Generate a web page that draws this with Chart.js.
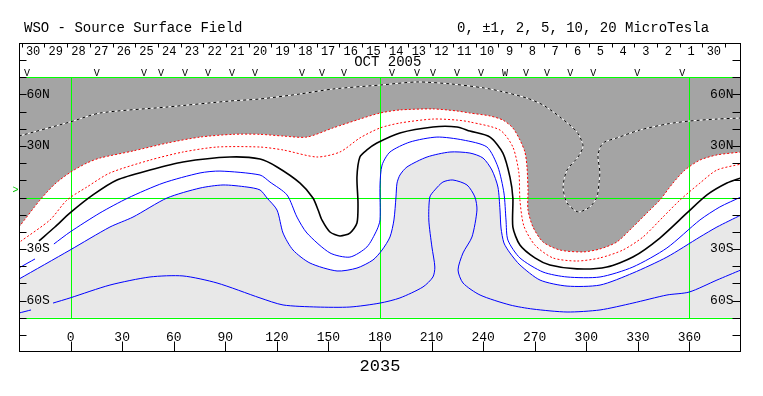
<!DOCTYPE html>
<html>
<head>
<meta charset="utf-8">
<script src="https://cdn.jsdelivr.net/npm/chart.js@4.4.0/dist/chart.umd.min.js"></script>
<style>
  body { margin: 0; background: #fff; }
  canvas { display: block; }
</style>
</head>
<body>
<canvas id="wso" width="763" height="396"></canvas>
<script>
// contour lines as [carrington longitude, latitude]; null = line hidden under a label
const neg5 = [[-30,35.8],[-0.3,44.0],[17.1,49.2],[56.1,52.7],[92.7,56.2],[110.2,57.4],[133.4,60.3],[152.6,63.2],
  [180.0,65.5],[201.5,67.3],[220.7,66.2],[239.9,63.9],[249.8,62.0],[265.5,57.9],[274.8,53.9],[284.7,46.9],
  [294.6,38.1],[298.1,30.0],[295.2,23.6],[288.8,16.0],[286.5,6.1],[288.8,-3.2],[295.2,-8.4],[302.1,-5.5],
  [306.2,0.3],[307.4,8.4],[307.9,14.9],[306.8,24.8],[309.7,31.7],[317.8,34.7],[331.1,39.3],[346.9,42.8],
  [359.6,44.5],[376.0,45.7],[390,46.3]];
const neg2 = [[-30,-17.2],[-17.8,-1.5],[-9.1,7.9],[0.2,14.9],[9.5,20.1],[17.1,23.0],[36.3,27.1],[56.1,31.7],
  [75.3,35.2],[94.5,36.8],[110.2,36.8],[123.6,35.8],[137.5,35.2],[152.6,40.5],[168.3,45.7],[180.0,49.2],
  [191.6,51.0],[210.8,51.6],[224.8,50.4],[232.3,49.2],[244.0,47.5],[251.5,45.1],[257.3,40.5],[261.4,33.5],
  [264.3,26.5],[265.5,17.8],[266.1,4.4],[266.1,-7.3],[269.0,-17.2],[274.8,-25.9],[284.7,-30.6],[298.1,-31.7],
  [307.9,-30.0],[317.8,-25.9],[327.1,-17.2],[335.3,-9.0],[342.8,-1.5],[350.4,8.4],[357.4,16.0],[366.1,21.8],
  [376.0,24.8],[390,26.5]];
const neg1 = [[-29,-25.5],[-12.0,-13.1],[-2.1,-1.5],[9.5,6.1],[22.9,14.3],[46.2,21.8],[65.4,26.5],[85.2,29.4],
  [110.2,29.4],[123.6,27.7],[143.3,23.6],[156.7,26.5],[168.3,34.7],[180.0,40.5],[191.6,43.4],[210.8,45.7],
  [224.8,45.1],[232.3,44.0],[249.8,39.3],[257.3,29.4],[260.8,14.3],[261.4,-1.5],[263.7,-16.6],[270.1,-27.7],
  [280.6,-35.2],[294.6,-37.0],[307.9,-35.2],[321.3,-30.6],[333.0,-23.0],[344.6,-11.4],[354.5,-1.5],[366.1,8.4],
  [376.0,16.0],[390,19.5]];
const zero = [[-18.4,-25.3],[-9.1,-17.2],[-0.3,-9.0],[13.0,1.5],[27.0,10.2],[46.2,16.0],[65.4,20.7],[92.7,23.6],
  [110.2,22.4],[120.1,17.8],[133.5,8.4],[141.0,-0.3],[144.0,-7.3],[146.2,-13.1],[150.9,-20.1],[156.7,-22.4],
  [162.5,-20.7],[166.6,-14.9],[167.2,-3.2],[166.6,11.9],[168.3,23.6],[172.4,27.7],[178.2,31.7],[191.6,37.6],
  [210.8,41.1],[224.8,41.1],[232.3,38.7],[244.0,35.2],[251.5,25.9],[255.6,11.9],[257.3,-0.3],[257.3,-17.2],
  [261.4,-27.7],[270.1,-35.2],[278.8,-39.3],[294.6,-41.6],[312.0,-40.5],[327.1,-34.7],[342.8,-23.6],
  [358.6,-9.0],[370.2,1.5],[381.8,8.4],[390,11.4]];
const pos1 = [[-30,-41.0],[-20.7,-35.8],null,[-9.7,-27.1],[-0.3,-20.1],[17.1,-9.0],[33.4,-0.3],[53.8,8.4],
  [75.3,14.3],[86.9,15.4],[110.2,13.1],[116.0,9.0],[125.9,1.5],[131.7,-11.4],[137.5,-20.7],[150.9,-32.3],
  [162.5,-34.7],[172.4,-28.8],[178.2,-18.9],[180.0,-13.1],[180.0,7.3],[181.2,18.9],[185.8,26.5],[197.4,32.3],
  [213.1,35.2],[228.3,33.5],[242.2,29.4],[248.6,17.8],[252.1,2.6],[253.3,-13.1],[254.4,-24.8],[261.4,-35.2],
  [274.8,-43.4],[288.8,-46.3],[308.0,-46.3],[327.1,-40.5],[346.9,-29.4],[366.1,-13.1],[377.7,-5.5],[390,0.3]];
const pos2 = [[-30,-47.5],[-0.3,-30.6],[22.9,-17.2],[36.3,-11.4],[56.1,-0.3],[75.3,5.5],[88.7,7.3],[102.6,6.1],
  [110.2,4.4],[114.3,-0.3],[120.1,-7.3],[123.6,-20.7],[129.4,-30.6],[139.3,-38.2],[155.0,-42.8],[166.6,-41.1],
  [175.9,-36.4],[181.2,-30.6],[185.8,-23.0],[188.1,-13.1],[189.3,0.3],[189.9,8.4],[191.6,13.1],[195.7,17.8],
  [207.4,23.6],[220.7,26.5],[232.3,25.9],[239.9,23.0],[245.1,16.0],[248.6,6.1],[249.8,-7.3],[250.4,-17.8],
  [252.1,-26.5],[255.6,-32.3],[261.4,-39.3],[273.1,-48.1],[288.8,-51.6],[308.0,-51.0],[327.1,-44.0],
  [346.9,-34.7],[366.1,-23.0],[376.0,-17.2],[390,-10.2]];
const pos5 = [[-30,-67.3],[-23.0,-65.5],null,[-10.2,-61.5],[-0.3,-58.5],[22.9,-51.0],[46.2,-46.3],[65.4,-45.7],
  [85.2,-49.8],[110.2,-58.5],[123.6,-62.6],[143.3,-63.8],[162.5,-63.8],[180.0,-61.5],[191.6,-58.5],
  [205.0,-52.1],[210.8,-46.3],[211.9,-40.5],[210.2,-28.8],[208.4,-13.1],[209.0,0.3],[211.9,4.4],[216.6,9.0],
  [222.4,10.2],[230.6,7.3],[235.2,0.3],[236.4,-7.3],[233.5,-23.0],[228.3,-32.3],[225.4,-42.2],[228.3,-49.8],
  [238.2,-56.8],[255.6,-62.6],[269.0,-65.0],[288.8,-66.7],[308.0,-65.5],[327.1,-61.5],[346.9,-56.8],
  [359.8,-55.1],[376.0,-48.1],[390,-42.2]];

// axes and annotations
const lonTicks = [0, 30, 60, 90, 120, 150, 180, 210, 240, 270, 300, 330, 360];
const latTicks = [-80, -70, -60, -50, -40, -30, -20, -10, 0, 10, 20, 30, 40, 50, 60, 70, 80];
const latLabels = [[60, '60N'], [30, '30N'], [-30, '30S'], [-60, '60S']];
const gridLon = [0, 180, 360];
const gridLat = [70, 0, -70];
const dayLabels = [30, 29, 28, 27, 26, 25, 24, 23, 22, 21, 20, 19, 18, 17, 16, 15, 14, 13, 12, 11, 10, 9, 8, 7, 6, 5, 4, 3, 2, 1, 30];
const firstDayLon = -28.4;
const dayWidth = 13.2;
const obsLon = [-25.4, 15.3, 42.7, 52.6, 66.5, 79.9, 93.9, 107.3, 134.6, 146.3, 159.1, 187.0, 201.5, 210.8,
  224.8, 238.8, 252.7, 265.0, 277.2, 290.6, 304.0, 329.6, 355.8];
const obsMark = obsLon.map(l => l === 252.7 ? 'W' : 'V');
const earthLat = 4.4;
const monthText = 'OCT 2005';
const monthLon = 184.5;
const rotation = '2035';
const titleLeft = 'WSO - Source Surface Field';
const titleRight = '0, \u00b11, 2, 5, 10, 20 MicroTesla';

function pts(list) {
  return list.map(p => p ? {x: p[0], y: p[1]} : {x: null, y: null});
}

const mono = '"Liberation Mono", "DejaVu Sans Mono", monospace';

const decor = {
  id: 'decor',
  // green reference lines go over the shading but under the contours
  beforeDatasetsDraw(chart) {
    const {ctx, scales: {x, y}, chartArea: a} = chart;
    ctx.save();
    ctx.fillStyle = '#00ff00';
    const top = Math.round(y.getPixelForValue(70));
    const bottom = Math.round(y.getPixelForValue(-70));
    gridLon.forEach(l => {
      ctx.fillRect(Math.round(x.getPixelForValue(l)), top, 1, bottom - top + 1);
    });
    gridLat.forEach(l => {
      ctx.fillRect(Math.round(a.left), Math.round(y.getPixelForValue(l)), Math.round(a.right - a.left), 1);
    });
    ctx.restore();
  },
  afterDatasetsDraw(chart) {
    const {ctx, scales: {x, y}, chartArea: a} = chart;
    ctx.save();
    ctx.strokeStyle = '#000';
    ctx.fillStyle = '#000';
    ctx.lineWidth = 1;
    const L = Math.round(a.left) + 0.5, R = Math.round(a.right) - 0.5;
    const T = Math.round(a.top) + 0.5, B = Math.round(a.bottom) - 0.5;
    ctx.strokeRect(L, T, R - L, B - T);

    ctx.beginPath();
    latTicks.forEach(l => {
      const py = Math.round(y.getPixelForValue(l)) + 0.5;
      ctx.moveTo(L, py); ctx.lineTo(L + 7, py);
      ctx.moveTo(R, py); ctx.lineTo(R - 8, py);
    });
    lonTicks.forEach(l => {
      const px = Math.round(x.getPixelForValue(l)) + 0.5;
      ctx.moveTo(px, B); ctx.lineTo(px, B - 10);
    });
    for (let k = 0; k <= dayLabels.length; k++) {
      const px = Math.round(x.getPixelForValue(firstDayLon + k * dayWidth)) + 0.5;
      ctx.moveTo(px, T); ctx.lineTo(px, T + 4);
    }
    ctx.stroke();

    ctx.textBaseline = 'middle';
    ctx.font = '13px ' + mono;
    ctx.textAlign = 'left';
    latLabels.forEach(([l, t]) => ctx.fillText(t, L + 7, y.getPixelForValue(l)));
    ctx.textAlign = 'right';
    latLabels.forEach(([l, t]) => ctx.fillText(t, R - 7, y.getPixelForValue(l)));

    ctx.textAlign = 'center';
    lonTicks.forEach(l => ctx.fillText(String(l), x.getPixelForValue(l), B - 14));

    ctx.font = '12px ' + mono;
    dayLabels.forEach((d, k) => {
      ctx.fillText(String(d), x.getPixelForValue(firstDayLon + (k + 0.5) * dayWidth), T + 8);
    });

    ctx.font = '14px ' + mono;
    ctx.fillText(monthText, x.getPixelForValue(monthLon), T + 19);

    ctx.font = '10px ' + mono;
    ctx.textBaseline = 'bottom';
    obsLon.forEach((l, i) => ctx.fillText(obsMark[i], x.getPixelForValue(l), y.getPixelForValue(70) + 1));

    ctx.textBaseline = 'alphabetic';
    ctx.font = '14px ' + mono;
    ctx.textAlign = 'left';
    ctx.fillText(titleLeft, 24, 32);
    ctx.fillText(titleRight, 457, 32);

    ctx.font = '17px ' + mono;
    ctx.textAlign = 'center';
    ctx.textBaseline = 'middle';
    ctx.fillText(rotation, x.getPixelForValue(180), 366);

    ctx.fillStyle = '#00c000';
    ctx.font = '10px ' + mono;
    ctx.textAlign = 'right';
    ctx.fillText('>', L - 1, y.getPixelForValue(earthLat));
    ctx.restore();
  }
};

const base = {pointRadius: 0, borderWidth: 1, tension: 0.25, fill: false};

new Chart(document.getElementById('wso'), {
  type: 'line',
  data: {
    datasets: [
      {...base, data: pts(neg2), borderColor: '#ff0000', borderDash: [2, 2], fill: {value: 70}, backgroundColor: '#a4a4a4', order: 8},
      {...base, data: pts(pos2), borderColor: '#0000ff', fill: {value: -70}, backgroundColor: '#e8e8e8', order: 7},
      {...base, data: pts(neg5), borderColor: '#ffffff', order: 6},
      {...base, data: pts(neg5), borderColor: '#000000', borderDash: [3, 3], order: 5},
      {...base, data: pts(neg1), borderColor: '#ff0000', borderDash: [2, 2], order: 4},
      {...base, data: pts(pos1), borderColor: '#0000ff', order: 3},
      {...base, data: pts(pos5), borderColor: '#0000ff', order: 2},
      {...base, data: pts(zero), borderColor: '#000000', borderWidth: 1.6, order: 1}
    ]
  },
  options: {
    responsive: false,
    devicePixelRatio: 1,
    animation: false,
    events: [],
    layout: {padding: {left: 19, right: 22, top: 43, bottom: 44}},
    scales: {
      x: {type: 'linear', min: -30, max: 390, display: false},
      y: {type: 'linear', min: -90, max: 90, display: false}
    },
    plugins: {
      legend: {display: false},
      tooltip: {enabled: false},
      filler: {drawTime: 'beforeDatasetsDraw'}
    }
  },
  plugins: [decor]
});
</script>
</body>
</html>
